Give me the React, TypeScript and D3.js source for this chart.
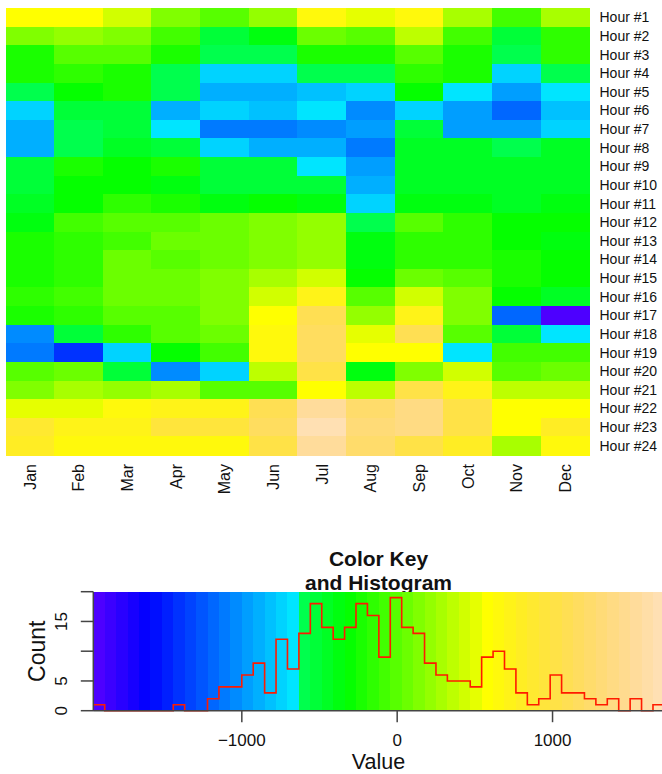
import React, { useEffect, useRef } from 'react';
import * as d3 from 'd3';

const MONTHS = ['Jan', 'Feb', 'Mar', 'Apr', 'May', 'Jun', 'Jul', 'Aug', 'Sep', 'Oct', 'Nov', 'Dec'];
const HOURS = d3.range(1, 25).map((h) => `Hour #${h}`);

// one row per hour, one value per month
const HEAT_VALUES: number[][] = [
  [580, 580, 430, 140, -10, 210, 650, 510, 650, 290, -80, 290],
  [140, 210, 140, -80, -520, -380, 70, -10, 360, -80, -520, -150],
  [-230, -10, -10, -230, -600, -600, -230, -230, -10, -230, -600, -150],
  [-230, -150, -230, -600, -740, -740, -600, -600, -150, -230, -740, -600],
  [-600, -300, -230, -600, -890, -890, -820, -740, -300, -670, -960, -670],
  [-740, -520, -520, -890, -740, -820, -670, -1040, -740, -960, -1180, -820],
  [-890, -600, -520, -670, -1110, -1110, -1040, -960, -520, -960, -960, -740],
  [-890, -600, -450, -520, -740, -890, -890, -1110, -450, -450, -600, -450],
  [-520, -230, -300, -230, -520, -520, -670, -960, -450, -450, -450, -450],
  [-520, -300, -300, -380, -520, -520, -520, -890, -450, -450, -450, -450],
  [-450, -300, -150, -230, -380, -300, -380, -740, -380, -380, -450, -380],
  [-380, -80, -10, -10, 70, 140, 210, -600, -10, -150, -300, -300],
  [-230, -150, -80, 70, 70, 140, 210, -380, -150, -150, -300, -380],
  [-230, -150, 70, -10, 70, 140, 210, -380, -150, -150, -230, -300],
  [-230, -150, 70, 70, 140, 290, 430, -300, 70, -10, -230, -300],
  [-150, -80, 70, 70, 140, 430, 730, -10, 430, 140, -300, -450],
  [-230, -150, -10, -10, 140, 580, 1100, 210, 730, 140, -1180, -1920],
  [-1040, -520, -150, -10, 70, 650, 1170, 510, 1100, -10, -520, -670],
  [-1110, -1400, -740, -300, -80, 650, 1170, 580, 580, -670, -80, -80],
  [-10, 70, -520, -1040, -740, 360, 1020, -380, 140, 430, -10, 70],
  [140, 290, 210, 290, -10, -10, 580, 360, 1020, 730, 360, 360],
  [510, 510, 650, 730, 730, 1100, 1540, 1240, 1390, 1020, 580, 580],
  [870, 730, 730, 950, 950, 1170, 1680, 1320, 1390, 1020, 580, 800],
  [800, 650, 650, 650, 650, 1020, 1540, 1240, 1020, 800, 290, 650],
];

const KEY_MIN = -1956;
const KEY_MAX = 1720;
const N_COLORS = 50;

// histogram counts per colour break
const HIST_COUNTS = [
  1, 0, 0, 0, 0, 0, 0, 1, 0, 0, 2, 4, 4, 6, 8, 3, 12,
  7, 13, 18, 14, 12, 14, 18, 16, 9, 19, 14, 13, 8, 6, 5, 5, 4,
  9, 10, 7, 3, 1, 2, 6, 3, 3, 2, 1, 2, 0, 2, 0, 1,
];

const VALUE_TICKS = [-1000, 0, 1000];
const COUNT_TICKS = [0, 5, 10, 15, 20];
const COUNT_LABELS = [0, 5, 15];

const FONT = '"Liberation Sans", Arial, Helvetica, sans-serif';

// R's topo.colors(n)
function topoColors(n: number): string[] {
  const j = Math.floor(n / 3);
  const k = Math.floor(n / 3);
  const i = n - j - k;
  const seq = (a: number, b: number, len: number) =>
    len === 1 ? [a] : d3.range(len).map((t) => a + ((b - a) * t) / (len - 1));
  const hsv = (h: number, s: number) => d3.hsl(h * 360, 1, 1 - s / 2).formatHex();
  const sat = seq(1, 0.3, k);
  return [
    ...seq(43 / 60, 31 / 60, i).map((h) => hsv(h, 1)),
    ...seq(23 / 60, 11 / 60, j).map((h) => hsv(h, 1)),
    ...seq(10 / 60, 6 / 60, k).map((h, idx) => hsv(h, sat[idx])),
  ];
}

const App: React.FC = () => {
  const svgRef = useRef<SVGSVGElement>(null);

  useEffect(() => {
    if (!svgRef.current) return;
    const svg = d3.select(svgRef.current);
    svg.selectAll('*').remove();

    const colors = topoColors(N_COLORS);
    const breaks = d3.range(N_COLORS + 1).map((i) => KEY_MIN + ((KEY_MAX - KEY_MIN) * i) / N_COLORS);
    const color = d3.scaleQuantize<string>().domain([KEY_MIN, KEY_MAX]).range(colors);

    // heatmap
    const x = d3.scaleBand<string>().domain(MONTHS).range([5.5, 589.3]);
    const y = d3.scaleBand<string>().domain(HOURS).range([8, 455]);

    const heat = svg.append('g').attr('shape-rendering', 'crispEdges');
    HEAT_VALUES.forEach((row, r) => {
      row.forEach((v, c) => {
        heat
          .append('rect')
          .attr('x', x(MONTHS[c])!)
          .attr('y', y(HOURS[r])!)
          .attr('width', x.bandwidth() + 0.5)
          .attr('height', y.bandwidth() + 0.5)
          .attr('fill', color(v));
      });
    });

    svg
      .append('g')
      .selectAll('text')
      .data(HOURS)
      .join('text')
      .attr('x', 599.5)
      .attr('y', (d) => y(d)! + y.bandwidth() / 2 + 5)
      .attr('font-family', FONT)
      .attr('font-size', '14px')
      .attr('fill', '#111')
      .text((d) => d);

    svg
      .append('g')
      .selectAll('text')
      .data(MONTHS)
      .join('text')
      .attr('transform', (d) => `translate(${x(d)! + x.bandwidth() / 2 + 6}, 464) rotate(-90)`)
      .attr('text-anchor', 'end')
      .attr('font-family', FONT)
      .attr('font-size', '16px')
      .attr('fill', '#111')
      .text((d) => d);

    // colour key with histogram
    const kx = d3.scaleLinear().domain([KEY_MIN, KEY_MAX]).range([93.3, 664.4]);
    const ky = d3.scaleLinear().domain([0, 20]).range([710.7, 591.7]);

    const title = svg
      .append('text')
      .attr('x', 378.5)
      .attr('text-anchor', 'middle')
      .attr('font-family', FONT)
      .attr('font-size', '21px')
      .attr('font-weight', 'bold')
      .attr('fill', '#111');
    title.append('tspan').attr('x', 378.5).attr('y', 566).text('Color Key');
    title.append('tspan').attr('x', 378.5).attr('y', 590).text('and Histogram');

    svg
      .append('g')
      .attr('shape-rendering', 'crispEdges')
      .selectAll('rect')
      .data(colors)
      .join('rect')
      .attr('x', (_, i) => kx(breaks[i]))
      .attr('y', ky(20))
      .attr('width', (_, i) => kx(breaks[i + 1]) - kx(breaks[i]) + 0.5)
      .attr('height', ky(0) - ky(20))
      .attr('fill', (d) => d);

    const stepPts: [number, number][] = breaks.map((b, i) => [
      kx(b),
      ky(HIST_COUNTS[Math.min(i, N_COLORS - 1)]),
    ]);
    const line = d3.line().curve(d3.curveStepAfter);
    svg
      .append('path')
      .attr('d', line(stepPts)!)
      .attr('fill', 'none')
      .attr('stroke', '#ff1a00')
      .attr('stroke-width', 1.6);

    const axisColor = '#444';
    // frame lines
    svg
      .append('line')
      .attr('x1', kx(KEY_MIN))
      .attr('x2', 662)
      .attr('y1', ky(0))
      .attr('y2', ky(0))
      .attr('stroke', axisColor)
      .attr('stroke-width', 1.5);
    svg
      .append('line')
      .attr('x1', kx(KEY_MIN))
      .attr('x2', kx(KEY_MIN))
      .attr('y1', ky(20))
      .attr('y2', ky(0))
      .attr('stroke', axisColor)
      .attr('stroke-width', 1.5);

    // y axis (count)
    svg
      .append('g')
      .selectAll('line')
      .data(COUNT_TICKS)
      .join('line')
      .attr('x1', kx(KEY_MIN) - 12.5)
      .attr('x2', kx(KEY_MIN))
      .attr('y1', (d) => ky(d))
      .attr('y2', (d) => ky(d))
      .attr('stroke', axisColor)
      .attr('stroke-width', 1.5);
    svg
      .append('g')
      .selectAll('text')
      .data(COUNT_LABELS)
      .join('text')
      .attr('transform', (d) => `translate(66.5, ${ky(d)}) rotate(-90)`)
      .attr('text-anchor', 'middle')
      .attr('font-family', FONT)
      .attr('font-size', '17px')
      .attr('fill', '#111')
      .text((d) => d);

    // x axis (value)
    const fmt = d3.format('d');
    svg
      .append('g')
      .selectAll('line')
      .data(VALUE_TICKS)
      .join('line')
      .attr('x1', (d) => kx(d))
      .attr('x2', (d) => kx(d))
      .attr('y1', ky(0))
      .attr('y2', ky(0) + 11.5)
      .attr('stroke', axisColor)
      .attr('stroke-width', 1.5);
    svg
      .append('g')
      .selectAll('text')
      .data(VALUE_TICKS)
      .join('text')
      .attr('x', (d) => kx(d))
      .attr('y', 745.5)
      .attr('text-anchor', 'middle')
      .attr('font-family', FONT)
      .attr('font-size', '17px')
      .attr('fill', '#111')
      .text((d) => fmt(d));

    svg
      .append('text')
      .attr('x', 378.5)
      .attr('y', 769)
      .attr('text-anchor', 'middle')
      .attr('font-family', FONT)
      .attr('font-size', '21.5px')
      .attr('fill', '#111')
      .text('Value');

    svg
      .append('text')
      .attr('transform', `translate(45, ${ky(10)}) rotate(-90)`)
      .attr('text-anchor', 'middle')
      .attr('font-family', FONT)
      .attr('font-size', '23px')
      .attr('fill', '#111')
      .text('Count');
  }, []);

  return (
    <svg
      ref={svgRef}
      width={662}
      height={774}
      style={{ position: 'absolute', left: 0, top: 0, background: '#fff' }}
    />
  );
};

export default App;
